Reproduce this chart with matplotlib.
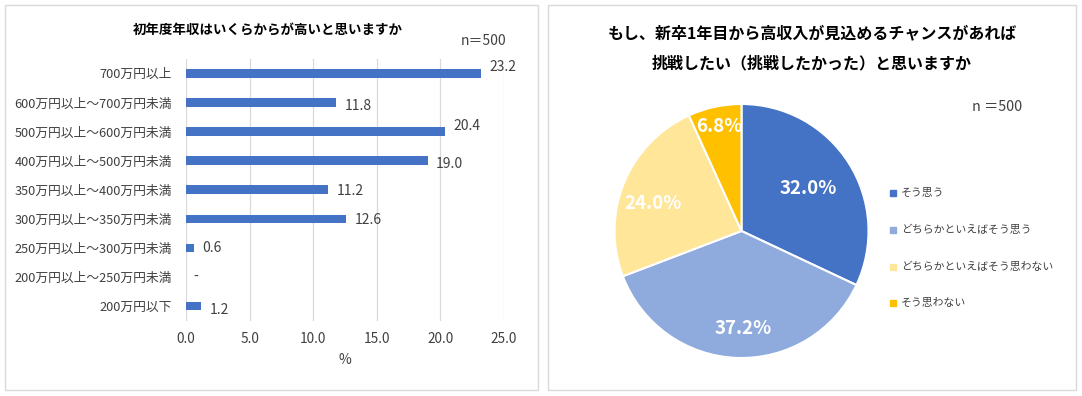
import matplotlib
matplotlib.use("Agg")
import matplotlib.pyplot as plt
from matplotlib.patches import Rectangle
import numpy as np

plt.rcParams['font.family'] = ['Noto Sans CJK JP', 'DejaVu Sans']

# ---- data ----
bar_title = "初年度年収はいくらからが高いと思いますか"
bar_categories = ["700万円以上", "600万円以上～700万円未満", "500万円以上～600万円未満",
                  "400万円以上～500万円未満", "350万円以上～400万円未満", "300万円以上～350万円未満",
                  "250万円以上～300万円未満", "200万円以上～250万円未満", "200万円以下"]
bar_values = [23.2, 11.8, 20.4, 19.0, 11.2, 12.6, 0.6, 0.0, 1.2]
bar_ticks = [0, 5, 10, 15, 20, 25]
bar_n = "n＝500"

pie_title = "もし、新卒1年目から高収入が見込めるチャンスがあれば\n挑戦したい（挑戦したかった）と思いますか"
pie_labels = ["そう思う", "どちらかといえばそう思う", "どちらかといえばそう思わない", "そう思わない"]
pie_values = [32.0, 37.2, 24.0, 6.8]
pie_n = "n ＝500"

# ---- style ----
W, H = 1082, 396
fig = plt.figure(figsize=(W / 100, H / 100), dpi=100)
fig.patch.set_facecolor("white")

def fx(px):
    return px / W

def fy(py):
    return 1 - py / H

border = "#D9D9D9"
fig.patches.append(Rectangle((fx(5), fy(390)), fx(538) - fx(5), fy(5) - fy(390),
                             transform=fig.transFigure, fill=False, edgecolor=border, lw=1))
fig.patches.append(Rectangle((fx(548), fy(390)), fx(1076) - fx(548), fy(5) - fy(390),
                             transform=fig.transFigure, fill=False, edgecolor=border, lw=1))

txt_col = "#404040"

# ---- bar chart ----
ax = fig.add_axes([fx(186), fy(320.5), fx(504) - fx(186), fy(58.8) - fy(320.5)])
y = np.arange(len(bar_categories))
ax.barh(y, bar_values, height=0.29, color="#4472C4", zorder=3)
ax.set_ylim(len(bar_categories) - 0.5, -0.5)
ax.set_xlim(0, 25)
ax.set_xticks(bar_ticks)
ax.set_xticklabels([f"{t:.1f}" for t in bar_ticks], fontsize=9.8, color=txt_col)
ax.set_yticks(y)
ax.set_yticklabels(bar_categories, fontsize=9.2, color=txt_col)
ax.tick_params(axis='y', length=0, pad=10)
ax.tick_params(axis='x', length=0, pad=8)
ax.xaxis.grid(True, color="#D9D9D9", lw=0.9, zorder=0)
for s in ax.spines.values():
    s.set_visible(False)
ax.set_xlabel("%", fontsize=10, color=txt_col, labelpad=5)

label_dy = [-6, 3.5, -5, 3, 1.5, 1, 0, 0, 4.5]  # pixel offsets of data labels
for i, v in enumerate(bar_values):
    txt = f"{v:.1f}" if v > 0 else "-"
    ax.annotate(txt, (v, i), xytext=(6 if v > 0 else 5, -label_dy[i] * 0.72),
                textcoords="offset points", ha="left", va="center",
                fontsize=10, color=txt_col, annotation_clip=False)

fig.text(fx(268), fy(31), bar_title, ha="center", va="center", fontsize=9.7,
         fontweight="bold", color="#000000")
fig.text(fx(484), fy(41), bar_n, ha="center", va="center", fontsize=10, color=txt_col)

# ---- pie chart ----
cx, cy, r = 741.5, 231, 127
pax = fig.add_axes([fx(cx - r), fy(cy + r), fx(2 * r), (2 * r) / H])
colors = ["#4472C4", "#8FAADC", "#FFE699", "#FFC000"]
wedges, _ = pax.pie(pie_values, colors=colors, startangle=90, counterclock=False,
                    wedgeprops=dict(edgecolor="white", linewidth=1.5))
pax.set_xlim(-1, 1)
pax.set_ylim(-1, 1)
pax.set_aspect("equal")
pax.axis("off")
label_r = [0.62, 0.77, 0.73, 0.84]
label_da = [0, 3, 5, 0]
ang = 90.0
for w, v, lr, da in zip(wedges, pie_values, label_r, label_da):
    mid = np.deg2rad(ang - v * 3.6 / 2 + da)
    ang -= v * 3.6
    pax.text(lr * np.cos(mid), lr * np.sin(mid), f"{v:.1f}%", ha="center", va="center",
             fontsize=13.5, fontweight="bold", color="white")

fig.text(fx(812), fy(33), pie_title.split("\n")[0], ha="center", va="center",
         fontsize=11.5, fontweight="bold", color="#000000")
fig.text(fx(812), fy(63), pie_title.split("\n")[1], ha="center", va="center",
         fontsize=11.5, fontweight="bold", color="#000000")
fig.text(fx(997), fy(107), pie_n, ha="center", va="center", fontsize=10.3, color=txt_col)

leg_y = [193, 230, 267, 303]
for lab, c, ly in zip(pie_labels, colors, leg_y):
    fig.patches.append(Rectangle((fx(890), fy(ly + 3)), fx(6), 6 / H,
                                 transform=fig.transFigure, color=c))
    fig.text(fx(901), fy(ly), lab, ha="left", va="center", fontsize=7.8, color=txt_col)

fig.savefig("out.png", dpi=100, facecolor="white")
